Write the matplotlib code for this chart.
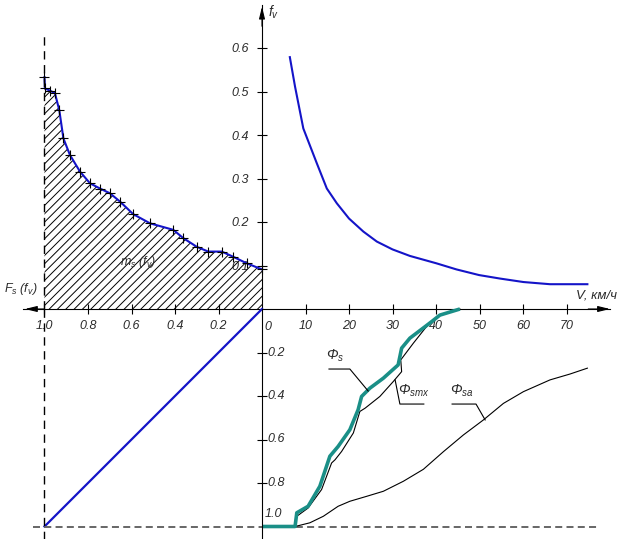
import matplotlib
matplotlib.use("Agg")
import matplotlib.pyplot as plt

# ---------------- data ----------------
# top-right: f_v(V)
fv_V = [6.4, 7.6, 9.5, 12.6, 14.9, 17.2, 20.0, 23.3, 26.4, 30.0, 34.0, 40.1, 44.7, 49.9, 54.7, 60.1, 66.2, 74.8]
fv_f = [0.579, 0.511, 0.415, 0.335, 0.277, 0.243, 0.208, 0.178, 0.155, 0.137, 0.122, 0.105, 0.091, 0.078, 0.070, 0.062, 0.057, 0.057]

# top-left: m_s(f_v) -> F_s vs f_v
ms_F = [1.0, 0.998, 0.975, 0.952, 0.932, 0.913, 0.883, 0.837, 0.791, 0.745, 0.699, 0.653, 0.592, 0.515, 0.408, 0.362, 0.300, 0.247, 0.185, 0.132, 0.070, 0.0]
ms_f = [0.533, 0.507, 0.502, 0.496, 0.457, 0.392, 0.354, 0.316, 0.289, 0.277, 0.266, 0.247, 0.218, 0.197, 0.182, 0.163, 0.143, 0.132, 0.132, 0.120, 0.105, 0.091]

# bottom-left: transfer line
diag_F = [0.0, 1.0]
diag_P = [0.0, 1.0]

# bottom-right: Phi curves
phs_V = [0, 7.6, 8.0, 10.6, 13.3, 15.6, 17.5, 20.2, 22.1, 22.9, 24.8, 27.9, 31.3, 32.1, 34.0, 37.5, 39.0, 40.9, 45.5]
phs_P = [1.0, 1.0, 0.937, 0.907, 0.815, 0.677, 0.632, 0.555, 0.463, 0.402, 0.364, 0.318, 0.257, 0.180, 0.134, 0.081, 0.058, 0.028, 0.0]

psmx_V = [7.6, 8.0, 10.6, 13.7, 16.0, 16.8, 18.3, 21.0, 22.5, 23.7, 27.1, 30.2, 32.1, 31.9, 34.8, 37.5, 39.0, 40.9, 45.5]
psmx_P = [1.0, 0.953, 0.915, 0.83, 0.708, 0.693, 0.655, 0.570, 0.471, 0.456, 0.402, 0.333, 0.288, 0.234, 0.157, 0.089, 0.058, 0.028, 0.0]

psa_V = [7.6, 11.0, 14.1, 17.5, 20.2, 24.1, 27.9, 32.5, 37.1, 41.7, 46.3, 50.9, 55.5, 60.1, 66.2, 70.8, 74.8]
psa_P = [1.0, 0.983, 0.953, 0.907, 0.884, 0.861, 0.838, 0.792, 0.737, 0.656, 0.579, 0.510, 0.434, 0.380, 0.326, 0.299, 0.272]

V_ticks = [10, 20, 30, 40, 50, 60, 70]
fv_ticks = [0.1, 0.2, 0.3, 0.4, 0.5, 0.6]
F_ticks = [0.2, 0.4, 0.6, 0.8, 1.0]
P_ticks = [0.2, 0.4, 0.6, 0.8]
P_labels = ["0.2", "0.4", "0.6", "0.8", "1.0"]

# ---------------- style ----------------
FAM = ["Liberation Sans", "DejaVu Sans"]
plt.rcParams["font.family"] = FAM
plt.rcParams["font.style"] = "italic"
plt.rcParams["mathtext.fontset"] = "custom"
plt.rcParams["mathtext.rm"] = "Liberation Sans:italic"
plt.rcParams["mathtext.it"] = "Liberation Sans:italic"
plt.rcParams["mathtext.sf"] = "Liberation Sans:italic"
plt.rcParams["hatch.linewidth"] = 0.7
TXT = "#2a2a2a"
BLUE = "#1414c8"
TEAL = "#1a8f87"
FS = 9

W, H = 623, 539
fig = plt.figure(figsize=(W / 100, H / 100), dpi=100)
fig.patch.set_facecolor("white")

OX, OY = 262.0, 309.0
SV = 4.35      # px per km/h
SF = 217.5     # px per unit F_s / Phi
SFV = 435.0    # px per unit f_v

def rect(x0, x1, y_top, y_bot):
    return [x0 / W, 1 - y_bot / H, (x1 - x0) / W, (y_bot - y_top) / H]

Vmax, fvmax, Fmax, Pmax = 80, 0.70, 1.10, 1.06
xr_right = OX + Vmax * SV
xl_left = OX - Fmax * SF
y_top = OY - fvmax * SFV
y_bot = OY + Pmax * SF

ax_tr = fig.add_axes(rect(OX, xr_right, y_top, OY))
ax_tl = fig.add_axes(rect(xl_left, OX, y_top, OY))
ax_bl = fig.add_axes(rect(xl_left, OX, OY, y_bot))
ax_br = fig.add_axes(rect(OX, xr_right, OY, y_bot))

ax_tr.set_xlim(0, Vmax); ax_tr.set_ylim(0, fvmax)
ax_tl.set_xlim(Fmax, 0); ax_tl.set_ylim(0, fvmax)
ax_bl.set_xlim(Fmax, 0); ax_bl.set_ylim(Pmax, 0)
ax_br.set_xlim(0, Vmax); ax_br.set_ylim(Pmax, 0)

for ax in (ax_tr, ax_tl, ax_bl, ax_br):
    ax.patch.set_alpha(0)
    for s in ax.spines.values():
        s.set_visible(False)
    ax.set_xticks([]); ax.set_yticks([])

TL = 7.2  # tick length pt (~10 px)
# top-right axes
ax_tr.spines["left"].set_visible(True)
ax_tr.spines["bottom"].set_visible(True)
for s in ("left", "bottom"):
    ax_tr.spines[s].set_linewidth(0.8)
    ax_tr.spines[s].set_color("black")
ax_tr.set_xticks(V_ticks)
ax_tr.set_xticklabels([str(v) for v in V_ticks])
ax_tr.set_yticks(fv_ticks)
ax_tr.set_yticklabels(["%.1f" % v for v in fv_ticks])
ax_tr.tick_params(axis="both", direction="inout", length=TL, width=0.8, labelsize=FS, labelcolor=TXT)
ax_tr.tick_params(axis="x", pad=4)
ax_tr.tick_params(axis="y", pad=6)
ax_tr.annotate("0", xy=(0, 0), xytext=(2, -9), textcoords="offset points", ha="left", va="top",
               fontsize=FS, color=TXT)

# top-left axes (horizontal F axis)
ax_tl.spines["bottom"].set_visible(True)
ax_tl.spines["bottom"].set_linewidth(0.8)
ax_tl.set_xticks(F_ticks)
ax_tl.set_xticklabels(["%.1f" % v for v in F_ticks])
ax_tl.tick_params(axis="x", direction="inout", length=TL, width=0.8, labelsize=FS, labelcolor=TXT, pad=4)

# bottom-right axes (vertical Phi axis)
ax_br.spines["left"].set_visible(True)
ax_br.spines["left"].set_linewidth(0.8)
ax_br.set_yticks(P_ticks)
ax_br.tick_params(axis="y", direction="inout", length=TL, width=0.8, labelleft=False)
for v, lab in zip(P_ticks + [1.0], P_labels):
    off = (4, 0) if v < 1.0 else (2, 9)
    ax_br.annotate(lab, xy=(0, v), xytext=off, textcoords="offset points", ha="left", va="center",
                   fontsize=FS, color=TXT, annotation_clip=False)

# arrows on axis ends
ap = dict(arrowstyle="-|>,head_length=0.9,head_width=0.22", color="black", lw=0.8,
          shrinkA=0, shrinkB=0, mutation_scale=8)
ax_tr.annotate("", xy=(Vmax, 0), xytext=(Vmax - 5, 0), arrowprops=ap, annotation_clip=False)
ax_tr.annotate("", xy=(0, fvmax - 0.005), xytext=(0, fvmax - 0.05), arrowprops=ap, annotation_clip=False)
ax_tl.annotate("", xy=(Fmax - 0.01, 0), xytext=(Fmax - 0.1, 0), arrowprops=ap, annotation_clip=False)

# ---------------- curves ----------------
ax_tr.plot(fv_V, fv_f, color=BLUE, lw=1.5, clip_on=False)

ax_tl.fill_between(ms_F, 0, ms_f, facecolor="none", edgecolor="black", hatch="////", linewidth=0)
ax_tl.plot(ms_F, ms_f, color=BLUE, lw=1.5, clip_on=False)
ax_tl.plot(ms_F, ms_f, ls="none", marker="+", ms=7, mew=0.8, color="black", clip_on=False)
ax_tl.plot([1.0, 1.0], [0, 0.637], color="black", lw=1.0, dashes=(6, 4))

ax_bl.plot(diag_F, diag_P, color=BLUE, lw=1.6, clip_on=False)
ax_bl.plot([1.0, 1.0], [0, Pmax], color="black", lw=1.0, dashes=(6, 4), clip_on=False)
ax_bl.plot([1.053, 0], [1.0, 1.0], color="#666666", lw=1.4, dashes=(3.6, 2.2), clip_on=False)
ax_br.plot([0, 77.0], [1.0, 1.0], color="#666666", lw=1.4, dashes=(3.6, 2.2), clip_on=False)

ax_br.plot(psa_V, psa_P, color="black", lw=0.8, clip_on=False)
ax_br.plot(psmx_V, psmx_P, color="black", lw=0.8, clip_on=False)
ax_br.plot(phs_V, phs_P, color=TEAL, lw=2.6, clip_on=False, solid_capstyle="butt")

# leaders + labels
ax_br.plot([15.4, 20.2, 24.4], [0.276, 0.276, 0.377], color="black", lw=0.8)
ax_br.plot([30.6, 31.7, 37.2], [0.326, 0.437, 0.437], color="black", lw=0.8)
ax_br.plot([43.7, 49.2, 51.3], [0.437, 0.437, 0.510], color="black", lw=0.8)
ax_br.text(16.8, 0.215, r"$\Phi_s$", fontsize=10, color=TXT, ha="center", va="center")
ax_br.text(35.0, 0.375, r"$\Phi_{smx}$", fontsize=10, color=TXT, ha="center", va="center")
ax_br.text(46.0, 0.378, r"$\Phi_{sa}$", fontsize=10, color=TXT, ha="center", va="center")

# axis titles
def ftxt(x, y, s, **kw):
    fig.text(x / W, 1 - y / H, s, color=TXT, **kw)

ftxt(268, 12, r"$f_v$", fontsize=10, ha="left", va="center")
ftxt(596, 296, "V, км/ч", fontsize=9.5, ha="center", va="center")
ftxt(21, 289, r"$F_s\ (f_v)$", fontsize=9, ha="center", va="center")
ftxt(138, 262, r"$m_s\ (f_v)$", fontsize=9, ha="center", va="center")

fig.savefig("out.png", dpi=100, facecolor="white")
